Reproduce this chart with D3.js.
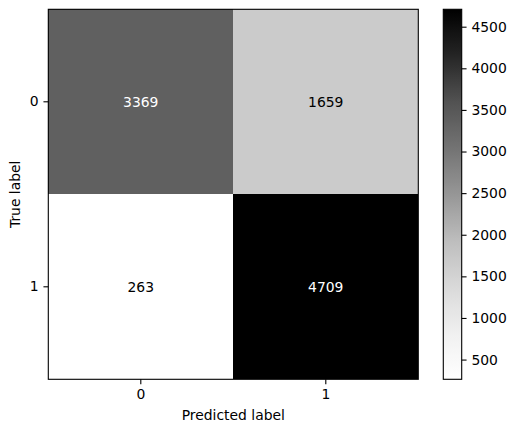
<!DOCTYPE html>
<html><head><meta charset="utf-8">
<script src="https://cdn.jsdelivr.net/npm/d3@7"></script>
<style>body{margin:0;background:#fff;} svg{display:block;}</style>
</head><body>
<svg id="chart" width="515" height="432"></svg>
<script>
// Data
const predictedLabels = ["0", "1"];
const trueLabels = ["0", "1"];
const row0 = [3369, 1659];
const row1 = [263, 4709];
const colorbarTicks = [500, 1000, 1500, 2000, 2500, 3000, 3500, 4000, 4500];
const xTitle = "Predicted label";
const yTitle = "True label";

(function () {
const matrix = [row0, row1];
const cells = [];
matrix.forEach((row, i) => row.forEach((v, j) => cells.push({t: trueLabels[i], p: predictedLabels[j], v})));
const vals = cells.map(d => d.v);
const vmin = d3.min(vals), vmax = d3.max(vals);

// matplotlib "Greys" colormap (linear interpolation of brewer stops)
const greysStops = ["#ffffff","#f0f0f0","#d9d9d9","#bdbdbd","#969696","#737373","#525252","#252525","#000000"];
const greys = d3.scaleLinear().domain(d3.range(9).map(i => i / 8)).range(greysStops).interpolate(d3.interpolateRgb).clamp(true);
const norm = d3.scaleLinear().domain([vmin, vmax]).range([0, 1]);
const color = v => greys(norm(v));

const svg = d3.select("#chart");
const font = "'DejaVu Sans', sans-serif";
const fs = 13.9;
const tl = 4.86, tp = 4.86, lw = 1.1;

const mLeft = 48.3, mTop = 9.3, size = 370;
const x = d3.scaleBand().domain(predictedLabels).range([mLeft, mLeft + size]);
const y = d3.scaleBand().domain(trueLabels).range([mTop, mTop + size]);

svg.append("g").selectAll("rect").data(cells).join("rect")
  .attr("x", d => x(d.p)).attr("y", d => y(d.t))
  .attr("width", x.bandwidth()).attr("height", y.bandwidth())
  .attr("fill", d => color(d.v)).attr("shape-rendering", "crispEdges");

const thresh = (vmax + vmin) / 2;
svg.append("g").selectAll("text").data(cells).join("text")
  .attr("x", d => x(d.p) + x.bandwidth() / 2)
  .attr("y", d => y(d.t) + y.bandwidth() / 2)
  .attr("text-anchor", "middle").attr("dominant-baseline", "central")
  .attr("font-family", font).attr("font-size", fs)
  .attr("fill", d => d.v > thresh ? "#ffffff" : "#000000")
  .text(d => d.v);

// Frame
svg.append("rect").attr("x", mLeft).attr("y", mTop).attr("width", size).attr("height", size)
  .attr("fill", "none").attr("stroke", "#000").attr("stroke-width", lw);

// Axes
const xAxis = d3.axisBottom(x).tickSize(tl).tickPadding(tp);
const gx = svg.append("g").attr("transform", `translate(0,${mTop + size})`).call(xAxis);
const yAxis = d3.axisLeft(y).tickSize(tl).tickPadding(tp);
const gy = svg.append("g").attr("transform", `translate(${mLeft},0)`).call(yAxis);
[gx, gy].forEach(g => {
  g.select(".domain").remove();
  g.selectAll(".tick line").attr("stroke", "#000").attr("stroke-width", lw);
  g.selectAll(".tick text").attr("font-family", font).attr("font-size", fs).attr("fill", "#000");
});

svg.append("text").attr("x", mLeft + size / 2).attr("y", 420)
  .attr("text-anchor", "middle").attr("font-family", font).attr("font-size", fs).attr("fill", "#000")
  .text(xTitle);
svg.append("text").attr("transform", `translate(20,${mTop + size / 2}) rotate(-90)`)
  .attr("text-anchor", "middle").attr("font-family", font).attr("font-size", fs).attr("fill", "#000")
  .text(yTitle);

// Colorbar
const cbx = 443.3, cbw = 18.4;
const cy = d3.scaleLinear().domain([vmin, vmax]).range([mTop + size, mTop]);
const defs = svg.append("defs");
const grad = defs.append("linearGradient").attr("id", "cbgrad")
  .attr("x1", 0).attr("y1", 1).attr("x2", 0).attr("y2", 0);
d3.range(0, 1.0001, 1 / 64).forEach(t => {
  grad.append("stop").attr("offset", t).attr("stop-color", greys(t));
});
svg.append("rect").attr("x", cbx).attr("y", mTop).attr("width", cbw).attr("height", size)
  .attr("fill", "url(#cbgrad)");
svg.append("rect").attr("x", cbx).attr("y", mTop).attr("width", cbw).attr("height", size)
  .attr("fill", "none").attr("stroke", "#000").attr("stroke-width", lw);
const cAxis = d3.axisRight(cy).tickValues(colorbarTicks).tickSize(tl).tickPadding(tp).tickFormat(d3.format("d"));
const gc = svg.append("g").attr("transform", `translate(${cbx + cbw},0)`).call(cAxis);
gc.select(".domain").remove();
gc.selectAll(".tick line").attr("stroke", "#000").attr("stroke-width", lw);
gc.selectAll(".tick text").attr("font-family", font).attr("font-size", fs).attr("fill", "#000");
})();
</script>
</body></html>
